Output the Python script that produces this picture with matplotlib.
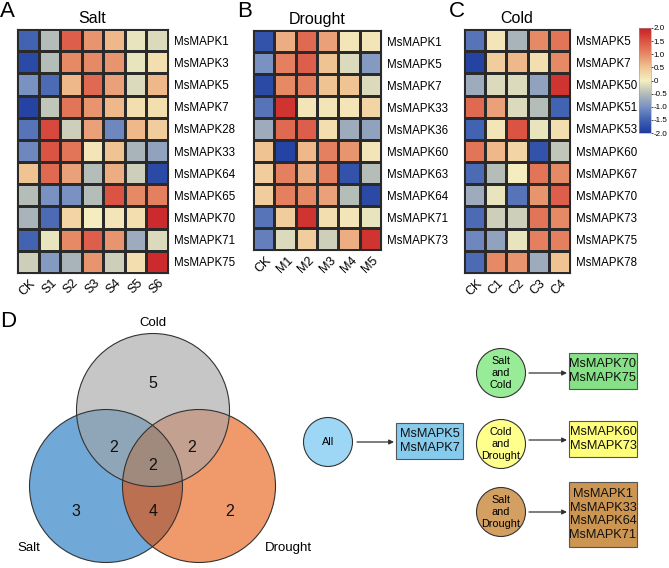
import numpy as np
import matplotlib
matplotlib.use("Agg")
import matplotlib.pyplot as plt
from matplotlib.colors import LinearSegmentedColormap
from matplotlib.patches import Circle, Rectangle, Polygon

plt.rcParams['font.family'] = ['Liberation Sans', 'DejaVu Sans']
plt.rcParams['axes.unicode_minus'] = False

# ---------------- data ----------------
salt_genes = ["MsMAPK1", "MsMAPK3", "MsMAPK5", "MsMAPK7", "MsMAPK28", "MsMAPK33",
              "MsMAPK64", "MsMAPK65", "MsMAPK70", "MsMAPK71", "MsMAPK75"]
salt_cols = ["CK", "S1", "S2", "S3", "S4", "S5", "S6"]
salt_vals = [
    [-1.5, -0.5, 1.4, 0.9, 0.6, -0.1, -0.2],
    [-1.8, -0.5, 1.0, 1.0, 0.9, -0.1, 0.2],
    [-1.0, -1.4, 0.6, 1.3, 0.8, -0.2, 0.6],
    [-1.9, -0.4, 1.2, 0.9, 0.6, 0.2, 0.2],
    [-1.3, 1.6, -0.3, 0.8, -1.1, 0.6, 0.4],
    [-1.1, 1.5, 1.2, 0.1, 0.5, -0.6, -0.8],
    [0.5, 1.3, 0.8, -0.5, 0.7, -0.3, -1.8],
    [-0.5, -1.0, -1.0, -0.5, 1.5, 1.0, 1.1],
    [-0.6, -1.4, 0.3, 0.0, 0.1, 0.2, 1.9],
    [-1.5, -0.1, 1.0, 1.4, 0.9, -0.7, -0.2],
    [-0.3, -0.9, -0.6, 0.9, -0.3, 0.2, 1.9],
]

drought_genes = ["MsMAPK1", "MsMAPK5", "MsMAPK7", "MsMAPK33", "MsMAPK36", "MsMAPK60",
                 "MsMAPK63", "MsMAPK64", "MsMAPK71", "MsMAPK73"]
drought_cols = ["CK", "M1", "M2", "M3", "M4", "M5"]
drought_vals = [
    [-1.7, 0.7, 1.3, 0.8, 0.1, 0.1],
    [-1.0, 1.1, 1.4, 0.5, -0.2, -0.9],
    [-1.8, 1.0, 1.1, 0.5, 0.5, -0.2],
    [-1.3, 1.8, 0.1, 0.1, 0.1, 0.3],
    [-0.7, 1.3, 1.4, 0.2, -0.7, -0.8],
    [0.5, -1.9, 0.6, 1.1, 0.9, 0.1],
    [0.4, 1.1, 0.7, 1.1, -1.7, -0.5],
    [0.4, 1.1, 1.0, 0.8, -0.5, -1.8],
    [-1.3, 0.4, 1.8, 0.2, 0.1, -0.1],
    [-1.2, -0.2, 0.4, -0.3, 0.7, 1.8],
]

cold_genes = ["MsMAPK5", "MsMAPK7", "MsMAPK50", "MsMAPK51", "MsMAPK53", "MsMAPK60",
              "MsMAPK67", "MsMAPK70", "MsMAPK73", "MsMAPK75", "MsMAPK78"]
cold_cols = ["CK", "C1", "C2", "C3", "C4"]
cold_vals = [
    [-1.3, 0.1, -0.6, 1.0, 1.2],
    [-1.9, 0.4, 0.6, 0.2, 1.0],
    [-0.7, -0.2, -0.2, -0.8, 1.8],
    [1.3, 0.8, -0.2, -0.5, -1.5],
    [-1.5, 0.1, 1.5, -0.1, 0.2],
    [1.2, 0.6, 0.3, -1.7, -0.4],
    [-1.4, -0.5, 0.0, 1.2, 1.0],
    [-0.7, -0.1, -1.3, 0.9, 1.4],
    [-1.4, -0.3, -0.3, 1.2, 1.0],
    [-1.1, -0.8, -0.1, 1.1, 1.1],
    [-1.4, 1.0, 0.9, -0.7, 0.5],
]

cbar_ticks = [2.0, 1.5, 1.0, 0.5, 0.0, -0.5, -1.0, -1.5, -2.0]
cbar_labels = ["2.0", "1.5", "1.0", "0.5", "0", "-0.5", "-1.0", "-1.5", "-2.0"]

venn_sets = ["Salt", "Drought", "Cold"]
venn_counts = {"S": 3, "D": 2, "C": 5, "SC": 2, "CD": 2, "SD": 4, "SCD": 2}

flow_groups = ["All", "Salt\nand\nCold", "Cold\nand\nDrought", "Salt\nand\nDrought"]
flow_genes = [["MsMAPK5", "MsMAPK7"], ["MsMAPK70", "MsMAPK75"],
              ["MsMAPK60", "MsMAPK73"], ["MsMAPK1", "MsMAPK33", "MsMAPK64", "MsMAPK71"]]

# ---------------- figure ----------------
W, H = 669, 568
fig = plt.figure(figsize=(W / 100, H / 100), dpi=100)


def px_axes(x0, y0, x1, y1):
    return fig.add_axes([x0 / W, 1 - y1 / H, (x1 - x0) / W, (y1 - y0) / H])


cmap = LinearSegmentedColormap.from_list("hm", [
    (0.0, '#1d3c9e'), (0.125, '#4262b2'), (0.25, '#7a92c2'), (0.375, '#b4bcb8'),
    (0.5, '#f4eec0'), (0.625, '#f0c494'), (0.75, '#e68a66'), (0.875, '#db5444'),
    (1.0, '#c82026')])


def heat(rect, vals, rows, cols, title):
    ax = px_axes(*rect)
    arr = np.array(vals)
    m = ax.pcolormesh(arr, cmap=cmap, vmin=-2, vmax=2, edgecolors='#2a2a2a', linewidth=0.8)
    ax.set_xlim(0, arr.shape[1])
    ax.set_ylim(arr.shape[0], 0)
    ax.set_xticks(np.arange(len(cols)) + 0.5)
    ax.set_xticklabels(cols, rotation=45, fontsize=9, ha='center', va='top')
    ax.yaxis.tick_right()
    ax.set_yticks(np.arange(len(rows)) + 0.5)
    ax.set_yticklabels(rows, fontsize=8.3)
    ax.tick_params(length=0, pad=4)
    ax.tick_params(axis='x', pad=3)
    for s in ax.spines.values():
        s.set_linewidth(0.8)
        s.set_color('#2a2a2a')
    ax.set_title(title, fontsize=11.5, pad=4)
    return m


heat((17, 29, 168, 273), salt_vals, salt_genes, salt_cols, "Salt")
heat((253, 30, 381, 250), drought_vals, drought_genes, drought_cols, "Drought")
m = heat((464, 29, 570, 273), cold_vals, cold_genes, cold_cols, "Cold")

cax = px_axes(639, 28, 651, 133)
cb = fig.colorbar(m, cax=cax)
cb.set_ticks(cbar_ticks)
cb.set_ticklabels(cbar_labels)
cb.ax.tick_params(labelsize=5.8, length=1.5, width=0.5, pad=0.5)
cb.outline.set_linewidth(0.4)
cb.outline.set_edgecolor('#999999')

fig.text(0 / W, 1 - 1 / H, "A", fontsize=16, va='top', ha='left')
fig.text(237 / W, 1 - 1 / H, "B", fontsize=16, va='top', ha='left')
fig.text(449 / W, 1 - 1 / H, "C", fontsize=16, va='top', ha='left')
fig.text(0 / W, 1 - 311 / H, "D", fontsize=16, va='top', ha='left')

# ---------------- overlay (Venn + flow) ----------------
ov = fig.add_axes([0, 0, 1, 1])
ov.set_xlim(0, W)
ov.set_ylim(H, 0)
ov.axis('off')

R = 76.5
centers = {"S": (106, 486), "D": (199, 486), "C": (153, 410)}
base_col = {"S": '#70a8d8', "D": '#f09a6c', "C": '#c6c6c6'}
pair_col = {"SC": '#8fa6b8', "CD": '#c4a090', "SD": '#bc7052'}
all_col = '#a08a7e'


def inter_poly(keys, n=720):
    pts = []
    t = np.linspace(0, 2 * np.pi, n, endpoint=False)
    for k in keys:
        cx, cy = centers[k]
        bx, by = cx + R * np.cos(t), cy + R * np.sin(t)
        ok = np.ones(n, bool)
        for o in keys:
            if o == k:
                continue
            ox, oy = centers[o]
            ok &= (bx - ox) ** 2 + (by - oy) ** 2 <= R ** 2 + 1e-6
        pts.append(np.c_[bx[ok], by[ok]])
    P = np.vstack(pts)
    c = P.mean(axis=0)
    ang = np.arctan2(P[:, 1] - c[1], P[:, 0] - c[0])
    return P[np.argsort(ang)]


for k in ["S", "D", "C"]:
    ov.add_patch(Circle(centers[k], R, facecolor=base_col[k], edgecolor='none'))
for kk, col in pair_col.items():
    ov.add_patch(Polygon(inter_poly(list(kk)), closed=True, facecolor=col, edgecolor='none'))
ov.add_patch(Polygon(inter_poly(["S", "C", "D"]), closed=True, facecolor=all_col, edgecolor='none'))
for k in ["S", "D", "C"]:
    ov.add_patch(Circle(centers[k], R, facecolor='none', edgecolor='#333333', linewidth=0.8))

num_pos = {"C": (153, 383), "SC": (114, 447), "CD": (192, 447), "SCD": (153, 466),
           "S": (76, 512), "SD": (153, 512), "D": (230, 512)}
for k, (x, y) in num_pos.items():
    ov.text(x, y, str(venn_counts[k]), fontsize=11.5, ha='center', va='center', color='#111111')

ov.text(29, 548, venn_sets[0], fontsize=9.5, ha='center', va='center')
ov.text(288, 548, venn_sets[1], fontsize=9.5, ha='center', va='center')
ov.text(153, 323, venn_sets[2], fontsize=9.5, ha='center', va='center')

# flow diagram
circ_pos = [(328, 442), (501, 373), (501, 444), (501, 512)]
circ_col = ['#9ed6f6', '#98ec98', '#ffff8c', '#d4a062']
box_rect = [(396, 423, 463, 459), (569, 353, 637, 389), (569, 421, 637, 457), (569, 482, 637, 547)]
box_col = ['#86caec', '#86e086', '#ffff7a', '#cc9552']
arrow_seg = [(357, 394, 442), (529, 567, 373), (529, 567, 440), (529, 567, 512)]

for i, grp in enumerate(flow_groups):
    cx, cy = circ_pos[i]
    ov.add_patch(Circle((cx, cy), 24.5, facecolor=circ_col[i], edgecolor='#333333', linewidth=0.8))
    ov.text(cx, cy, grp, fontsize=7.8, ha='center', va='center', linespacing=1.2)
    x0, y0, x1, y1 = box_rect[i]
    ov.add_patch(Rectangle((x0, y0), x1 - x0, y1 - y0, facecolor=box_col[i],
                           edgecolor='#555555', linewidth=0.8))
    ov.text((x0 + x1) / 2, (y0 + y1) / 2, "\n".join(flow_genes[i]), fontsize=9.2,
            ha='center', va='center', linespacing=1.15, color='#111111')
    ax0, ax1, ay = arrow_seg[i]
    ov.annotate("", xy=(ax1, ay), xytext=(ax0, ay),
                arrowprops=dict(arrowstyle='-|>', color='#333333', lw=0.9,
                                mutation_scale=7, shrinkA=0, shrinkB=0))

fig.savefig("out.png", dpi=100)
